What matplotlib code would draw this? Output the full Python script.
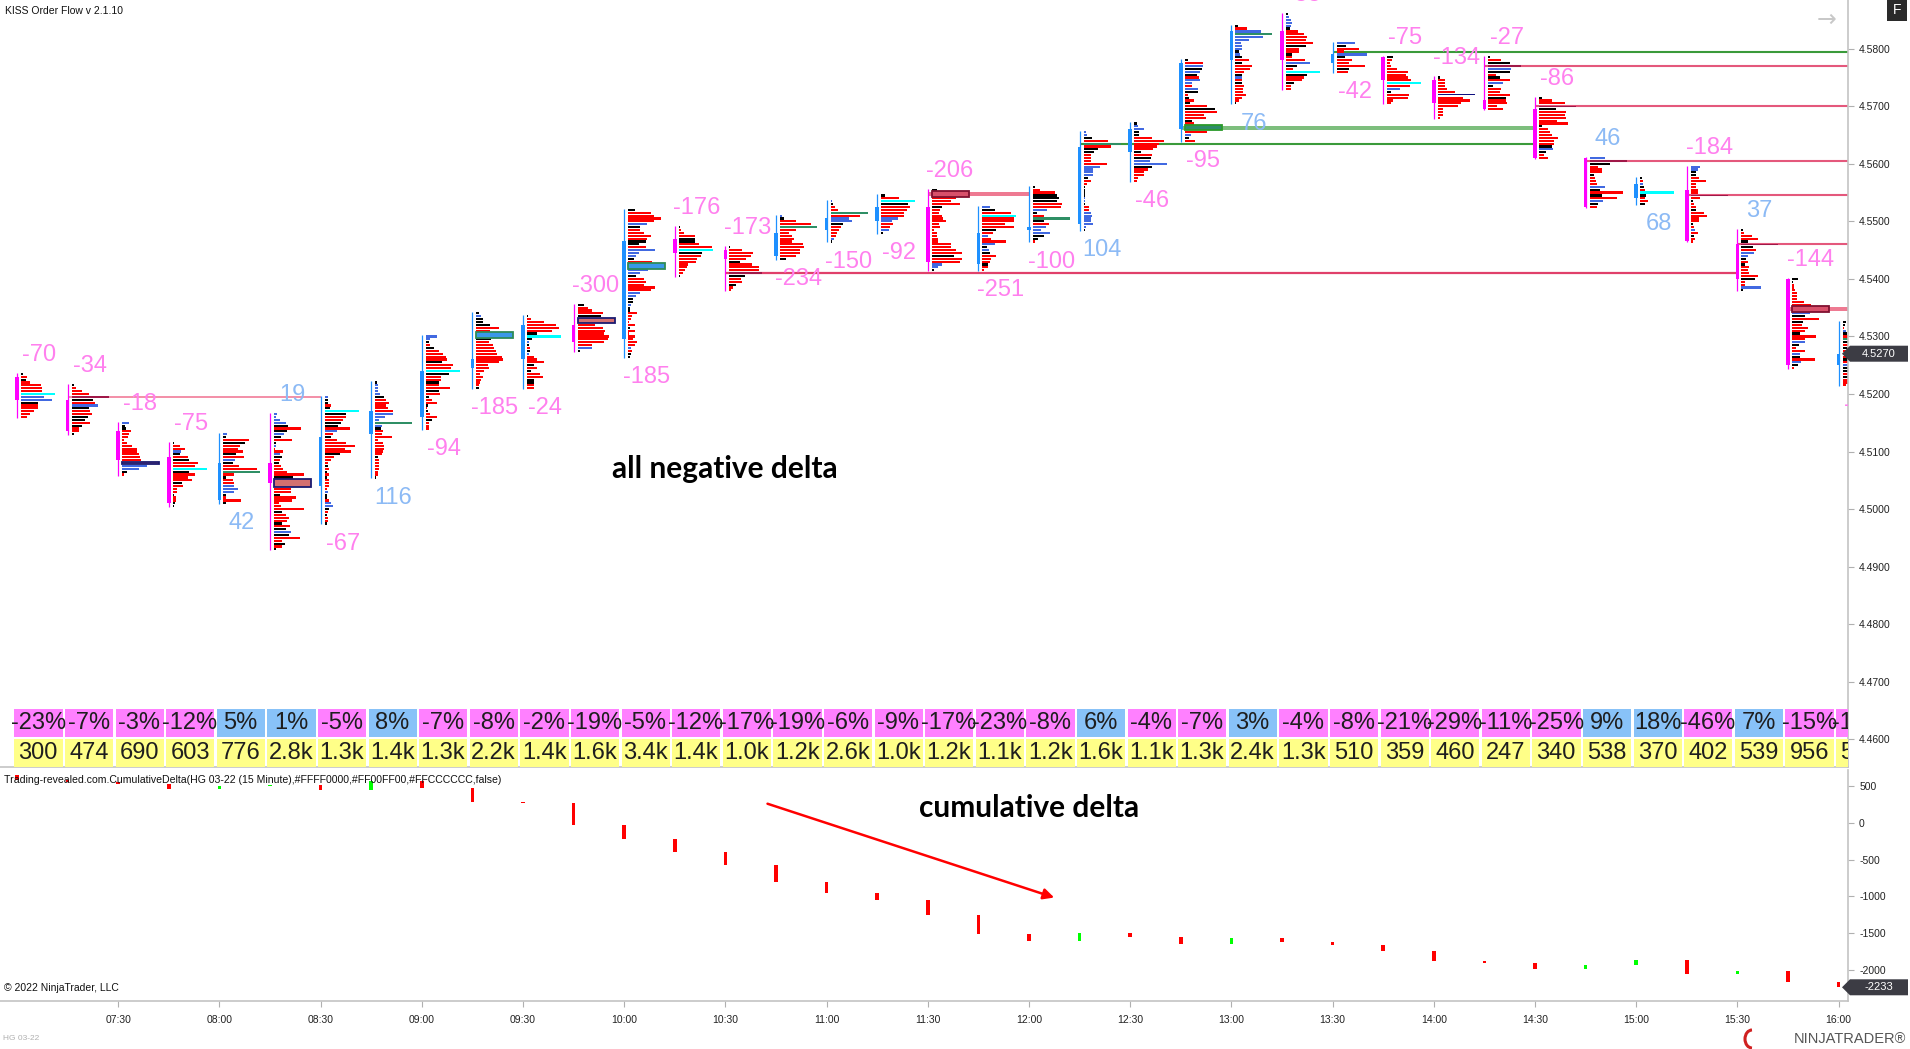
import matplotlib
matplotlib.use("Agg")
import matplotlib.pyplot as plt
import numpy as np
from matplotlib.patches import Rectangle, Polygon, Arc

# ---- data (15 minute HG 03-22 bars, 07:00 .. 16:00) ----
TIME_LABELS = ["07:30", "08:00", "08:30", "09:00", "09:30", "10:00", "10:30", "11:00", "11:30",
               "12:00", "12:30", "13:00", "13:30", "14:00", "14:30", "15:00", "15:30", "16:00"]

HIGHS = [4.5235, 4.5215, 4.5150, 4.5115, 4.5130, 4.5165, 4.5195, 4.5220, 4.5300, 4.5340,
         4.5335, 4.5355, 4.5520, 4.5490, 4.5455, 4.5510, 4.5535, 4.5545, 4.5555, 4.5525,
         4.5560, 4.5655, 4.5670, 4.5780, 4.5840, 4.5860, 4.5810, 4.5785, 4.5750, 4.5785,
         4.5715, 4.5610, 4.5575, 4.5595, 4.5485, 4.5400, 4.5325]
OPENS = [4.5230, 4.5190, 4.5135, 4.5090, 4.5015, 4.5080, 4.5040, 4.5130, 4.5160, 4.5245,
         4.5260, 4.5320, 4.5295, 4.5470, 4.5450, 4.5440, 4.5485, 4.5500, 4.5525, 4.5425,
         4.5485, 4.5495, 4.5620, 4.5660, 4.5780, 4.5830, 4.5775, 4.5785, 4.5745, 4.5710,
         4.5695, 4.5610, 4.5540, 4.5555, 4.5460, 4.5400, 4.5250]
CLOSES = [4.5190, 4.5135, 4.5085, 4.5010, 4.5080, 4.5045, 4.5125, 4.5170, 4.5240, 4.5260,
          4.5320, 4.5290, 4.5465, 4.5445, 4.5435, 4.5480, 4.5505, 4.5525, 4.5430, 4.5480,
          4.5490, 4.5630, 4.5660, 4.5775, 4.5830, 4.5780, 4.5790, 4.5745, 4.5705, 4.5695,
          4.5610, 4.5525, 4.5565, 4.5465, 4.5400, 4.5250, 4.5270]

DELTAS = [-70, -34, -18, -75, 42, 19, -67, 116, -94, -185, -24, -300, -185, -176, -173, -234,
          -150, -92, -206, -251, -100, 104, -46, -95, 76, -55, -42, -75, -134, -27, -86, 46,
          68, -184, 37, -144, -73]
DELTA_PCT = [-23, -7, -3, -12, 5, 1, -5, 8, -7, -8, -2, -19, -5, -12, -17, -19, -6, -9, -17,
             -23, -8, 6, -4, -7, 3, -4, -8, -21, -29, -11, -25, 9, 18, -46, 7, -15, -13]
VOLUMES = ["300", "474", "690", "603", "776", "2.8k", "1.3k", "1.4k", "1.3k", "2.2k", "1.4k",
           "1.6k", "3.4k", "1.4k", "1.0k", "1.2k", "2.6k", "1.0k", "1.2k", "1.1k", "1.2k",
           "1.6k", "1.1k", "1.3k", "2.4k", "1.3k", "510", "359", "460", "247", "340", "538",
           "370", "402", "539", "956", "560"]

# volume profile per bar, top price level first: <colour code><volume>
PROFILES = [
    "k2 r6 k5 r9 r20 r21 r21 c34 b23 b31 k17 r17 r17 r13 r9 r6",
    "k2 r4 r10 r17 m37 k21 r23 b26 k17 r18 r20 k16 k13 r18 k10 r7 r7 k2",
    "b7 k3 k4 r9 r7 r6 r2 r5 r10 r15 r15 r17 r18 r19 P37 b25 b17 k5 r2",
    "k1 r7 r12 b8 k7 r15 k16 r25 r22 c34 k16 r22 r15 r19 k9 r10 r4 r4 k1 r3 r3 k2 k1",
    "b4 k3 r26 k22 r17 r15 r20 k13 r21 b12 k10 r16 r34 g37 r11 k3 r10 r11 b11 b15 b11 k3 r3 r18 k3",
    "b3 b2 b6 b12 k14 r27 k13 b10 k7 r18 k2 b2 r1 r9 b6 k8 r6 k5 r7 r9 r13 r30 k19 P37 P37 P37 "
    "r17 r17 k6 r22 r18 r5 r7 r30 k8 r12 r15 r13 k8 r16 k12 b17 k15 r26 r8 k11 r8 k2",
    "b3 k3 k3 r6 k5 c34 k21 r21 r18 k16 k13 r25 b12 r8 k6 r12 r21 r30 r20 r26 k15 r9 r6 r3 k3 "
    "r4 k2 r4 k2 r4 r4 r4 r2 b3 k2 k2 r4 b6 b8 k4 r3 k2 r3 r3 k2",
    "k2 b3 b3 b3 b5 k9 r11 r14 r11 r13 r18 b18 b10 b4 g37 b7 k6 r8 r7 r17 r3 r8 r9 r9 r8 r7 k3 "
    "r4 r4 r4 r4 r3 r3 k1",
    "b11 b4 k3 r4 k8 r13 r17 r20 r21 k16 r27 r25 c34 k23 r15 r15 k13 r13 r24 k13 r14 k3 r6 r11 "
    "k2 r1 k2 r4 r11 k6 r3 r3 r3",
    "k3 b5 k7 k7 k14 r23 r14 Q37 Q37 k15 r13 r17 r18 r20 r21 r26 r27 r23 r12 r13 r8 r4 r7 r5 r4 r3 k3",
    "k1 r4 r17 r29 r32 r25 k10 c34 k5 b2 k2 r3 k3 b2 r7 r10 r17 k7 r10 k4 r13 r16 k7 k7 r7 r7",
    "k6 r10 r14 r25 k23 P37 P37 r17 r25 r27 r26 r31 r30 r26 r14 b14 k2",
    "k7 r23 r26 r33 r26 b19 k12 r12 r16 r23 r19 k18 k11 r18 b27 b11 b8 k6 r24 Q37 Q37 b20 b12 k8 "
    "r16 r18 r16 r27 r23 b12 b8 k5 k5 b3 k2 k2 r9 r4 r3 r1 r7 k2 r7 r1 r7 r5 r9 r7 b3 r4 k3 k2",
    "k1 r2 r5 r16 k16 k16 r20 r33 c34 k23 r22 r18 r17 r9 r8 r6 r4 k1",
    "k1 r13 r24 r22 r17 k11 r23 r30 r30 m33 k16 r12 r13 k7 r4 r2",
    "b2 k4 r16 r31 g37 r16 r9 r12 r14 r12 r23 r24 r20 r20 r16 k6",
    "b1 k2 r4 r7 g37 r29 b18 b21 k12 r10 r8 r6 r5 b3 k1",
    "k4 r18 c34 k27 r29 r26 r23 r23 b17 b11 r12 r9 b8 k2",
    "k5 R37 R37 r24 r19 r28 k10 r8 r7 r10 r11 r14 r7 r8 r2 r5 r5 r6 r6 r19 r19 r24 r30 k22 r30 "
    "r28 b10 b6 k2",
    "b8 k13 r29 c34 r32 r32 r23 r32 k14 r11 b6 r9 r24 b13 k5 b7 k8 r14 r9 r8 k6 r6 r2",
    "k2 r7 r22 k24 k26 k24 r29 r28 b14 k4 r11 g37 k11 r16 b13 b8 b17 k11 k5 r2",
    "b2 b3 k8 r24 g37 r27 k14 k10 r7 r7 r7 r23 b16 b9 b9 b9 k4 r7 r3 k1 k1 k1 k1 b1 b1 k1 r5 r5 "
    "b7 b8 b7 b7 b9 b2 k1",
    "k3 b4 b10 k5 k5 r18 r30 r25 r23 r19 k7 r18 k17 b16 b33 k18 r14 r10 r10 r4 r3",
    "k3 r18 b18 k17 b15 k12 r14 b15 b7 r7 b13 k13 r3 k4 r9 k5 r22 k30 r32 r19 r21 k7 r9 G37 G37 "
    "r22 b6 k4 r10",
    "k3 r12 b26 g37 b28 b14 b6 b7 b7 k4 b5 k7 r14 k7 r17 r15 r9 k7 b7 r7 k7 r9 r8 r8 r11 r7 r4 k1",
    "k2 b3 b5 b6 b5 k4 r12 r18 r21 r20 r27 k20 r13 r13 k6 r6 r19 b24 k11 r7 c34 k21 r18 r16 k8 r5 r5",
    "b18 k9 r22 r7 b30 k8 r15 r12 r28 k12 r11",
    "k6 r5 r3 r4 r10 r21 r19 r21 r24 c34 r23 b13 k4 r22 r21 r6 r4",
    "k2 r7 r7 r7 r9 r17 N37 r25 r32 r23 r20 r5 r5 r5 r2",
    "k2 r13 k22 m33 b23 k22 r8 k12 r22 b15 k5 r13 r12 r22 k18 r18 r19 r9 r15",
    "k3 r13 r26 m37 k17 r27 r26 r27 r18 r29 k3 r9 r11 r13 r19 r15 r15 k13 b14 k7 r5 r9",
    "b15 m37 k20 r8 r12 r12 k4 r5 r6 r7 b15 k10 r33 k12 r27 b13 k8 r7",
    "k2 r3 b3 k4 r5 c34 k6 r5 r8 k5",
    "b9 b7 k5 k5 r8 r15 r5 r5 r7 r7 m37 r9 k2 r3 r5 k5 r13 r16 r8 r8 k2 r3 b4 r7 k3 r4 r2",
    "k2 r3 r11 r17 k7 m37 k12 r15 b13 b7 k5 r7 k4 r8 r7 r8 r17 k14 r4 r4 b20 k2",
    "k6 k1 r2 r2 r3 r5 r5 r5 r12 r19 R37 R37 b18 k13 r27 k11 r10 r16 r13 k8 r24 r13 b13 k7 r4 "
    "r13 b8 k8 r23 b9 k6 r2",
    "k3 k2 r1 b3 k4 r5 g10 k7 r7 k5 r5 r5 r7 k7 r7 b7 k5 k5 r7 k7 r5 r5 r3",
]

# untested levels (price, origin bar, bar that touched it or None = still open, kind)
LEVEL_PRICES = [4.5195, 4.5410, 4.55475, 4.5635, 4.56625, 4.5795, 4.5770, 4.5700, 4.5605,
                4.5545, 4.5460, 4.53475]
LEVEL_FROM = [1, 14, 18, 21, 23, 26, 29, 30, 31, 33, 34, 35]
LEVEL_TO = [6, 34, 20, 30, 30, None, None, None, None, None, None, None]
LEVEL_KIND = ["thin", "red", "pinkband", "green", "greenband", "green", "pink", "pink", "pink",
              "pink", "pink", "pinkband"]

CD_START = 654  # cumulative delta before the 07:00 bar

# ---- layout (pixels of the 1910x1049 screenshot) ----
W, H = 1910, 1049
TICK = 0.0005
PX_BAR = 50.6          # pixels per 15 minute bar
X0_PX = 17             # x of the 07:00 bar
RIGHT_PX = 1848        # price axis line
MAIN_BOTTOM_PX = 767
SUB_TOP_PX, SUB_BOTTOM_PX = 770, 1001
PX_PER_PRICE = 5755
PRICE_TOP = 4.58846
CD_TOP, CD_BOTTOM = 716, -2419

BULL, BEAR = "#1E90FF", "#FF00FF"
NEG_TXT, POS_TXT = "#FF80EE", "#8CBAF5"
NEG_BOX, POS_BOX = "#FF80FF", "#88C2F8"
BAR_COLORS = {"r": "#FF0000", "k": "#000000", "b": "#4169E1", "c": "#00FFFF",
              "g": "#2F8F65", "m": "#A01848", "N": "#101080"}
BOX_STYLE = {"P": ("#D47070", "#1A1A70"), "R": ("#D8506A", "#801030"),
             "Q": ("#3A98E8", "#2E8B57"), "G": ("#2E8B6A", "#2A9A2A")}
LINE_STYLE = {"thin": ("#F07090", 1.1), "red": ("#E0406A", 1.6), "green": ("#3A9A3A", 1.5),
              "pink": ("#E4587C", 1.5)}
BAND_STYLE = {"pinkband": ("#EE7A92", 0.0008), "greenband": ("#7DBE7D", 0.0008)}

ARIAL = ["Liberation Sans", "DejaVu Sans"]
NARROW = ["Liberation Sans Narrow", "DejaVu Sans Condensed", "Liberation Sans", "DejaVu Sans"]
NOTE = ["Lato", "DejaVu Sans"]


def fig_xy(x_px, y_px):
    return x_px / W, 1 - y_px / H


fig = plt.figure(figsize=(W / 100, H / 100), dpi=100)
fig.patch.set_facecolor("white")

xlim = (-X0_PX / PX_BAR, (RIGHT_PX - X0_PX) / PX_BAR)
ax = fig.add_axes([0, 1 - MAIN_BOTTOM_PX / H, RIGHT_PX / W, MAIN_BOTTOM_PX / H])
ax.set_xlim(*xlim)
ax.set_ylim(PRICE_TOP - MAIN_BOTTOM_PX / PX_PER_PRICE, PRICE_TOP)

sub = fig.add_axes([0, 1 - SUB_BOTTOM_PX / H, RIGHT_PX / W, (SUB_BOTTOM_PX - SUB_TOP_PX) / H])
sub.set_xlim(*xlim)
sub.set_ylim(CD_BOTTOM, CD_TOP)

for a in (ax, sub):
    for side in ("top", "left"):
        a.spines[side].set_visible(False)
    for side in ("right", "bottom"):
        a.spines[side].set_color("#C4C4C4")
        a.spines[side].set_linewidth(1.2)
    a.yaxis.tick_right()
    a.tick_params(axis="y", length=4, width=0.8, color="#B0B0B0", pad=4,
                  labelsize=7.5, labelcolor="#222222")

# price axis
ax.set_yticks(np.round(np.arange(4.46, 4.5801, 0.01), 2))
ax.set_yticklabels([f"{v:.4f}" for v in np.arange(4.46, 4.5801, 0.01)], family=ARIAL)
ax.set_xticks([])

# ---- untested levels (drawn under the profiles) ----
for price, start, end, kind in zip(LEVEL_PRICES, LEVEL_FROM, LEVEL_TO, LEVEL_KIND):
    x_end = xlim[1] if end is None else end
    if kind in BAND_STYLE:
        col, thick = BAND_STYLE[kind]
        ax.add_patch(Rectangle((start, price - thick / 2), x_end - start, thick,
                               fc=col, ec="none", zorder=1))
    else:
        col, lw = LINE_STYLE[kind]
        ax.hlines(price, start, x_end, color=col, lw=lw, zorder=1)

# ---- footprint profiles, candles, delta labels ----
gap = 4 / PX_BAR
for i, prof in enumerate(PROFILES):
    toks = prof.split()
    hi = HIGHS[i]
    n = len(toks)
    lo = hi - (n - 1) * TICK
    ys, ws, cols, hs = [], [], [], []
    j = 0
    while j < n:
        code, vol = toks[j][0], int(toks[j][1:])
        p = hi - j * TICK
        if code in BOX_STYLE:
            k = j
            while k + 1 < n and toks[k + 1][0] == code:
                k += 1
            top = p + 0.42 * TICK
            bot = hi - k * TICK - 0.42 * TICK
            fc, ec = BOX_STYLE[code]
            ax.add_patch(Rectangle((i + gap, bot), vol / PX_BAR, top - bot,
                                   fc=fc, ec=ec, lw=1.3, zorder=3))
            j = k + 1
            continue
        ys.append(p)
        ws.append(vol / PX_BAR)
        cols.append(BAR_COLORS[code])
        hs.append((0.5 if code in "mN" else 0.75) * TICK)
        j += 1
    ax.barh(ys, ws, height=hs, left=i + gap, color=cols, linewidth=0, zorder=2)

    o, c = OPENS[i], CLOSES[i]
    bear = c < o
    ccol = BEAR if bear else BULL
    ax.vlines(i, lo - 0.35 * TICK, hi + 0.35 * TICK, color=ccol, lw=0.9, zorder=4)
    ax.bar(i, abs(c - o), bottom=min(o, c), width=0.075, color=ccol, linewidth=0, zorder=4)

    d = DELTAS[i]
    ly = hi + 6.6 * TICK if bear else lo - 7.0 * TICK
    ax.text(i + 0.44, ly, str(d), color=POS_TXT if d > 0 else NEG_TXT, fontsize=17,
            family=ARIAL, ha="center", va="center", zorder=5, clip_on=True)

# ---- delta % and volume rows ----
trans = ax.get_xaxis_transform()
y_top = (MAIN_BOTTOM_PX - 709) / MAIN_BOTTOM_PX
y_mid = (MAIN_BOTTOM_PX - 737) / MAIN_BOTTOM_PX
y_vol = (MAIN_BOTTOM_PX - 739) / MAIN_BOTTOM_PX
for i, (pct, vol) in enumerate(zip(DELTA_PCT, VOLUMES)):
    ax.add_patch(Rectangle((i - 0.05, y_mid), 0.95, y_top - y_mid, transform=trans,
                           fc=NEG_BOX if pct < 0 else POS_BOX, ec="none", zorder=6))
    ax.add_patch(Rectangle((i - 0.05, 0.0), 0.95, y_vol, transform=trans,
                           fc="#FFFF88", ec="none", zorder=6))
    ax.text(i + 0.42, (y_top + y_mid) / 2, f"{pct}%", transform=trans, fontsize=17,
            family=NARROW, color="#1E1E1E", ha="center", va="center", zorder=7, clip_on=True)
    ax.text(i + 0.42, y_vol / 2, vol, transform=trans, fontsize=17,
            family=NARROW, color="#1E1E1E", ha="center", va="center", zorder=7, clip_on=True)

ax.text(13.98, 4.5070, "all negative delta", fontsize=21.5, fontweight="bold",
        family=NOTE, ha="center", va="center", zorder=8)

# ---- cumulative delta panel ----
idx = np.arange(len(DELTAS))
cd_close = CD_START + np.cumsum(DELTAS)
cd_open = np.r_[CD_START, cd_close[:-1]]
sub.bar(idx, cd_close - cd_open, bottom=cd_open, width=0.07,
        color=["#FF0000" if d < 0 else "#00FF00" for d in DELTAS], linewidth=0, zorder=2)
sub.set_yticks([500, 0, -500, -1000, -1500, -2000])
sub.set_yticklabels(["500", "0", "-500", "-1000", "-1500", "-2000"], family=ARIAL)
sub.set_xticks(range(2, 37, 2))
sub.set_xticklabels(TIME_LABELS, family=ARIAL)
sub.tick_params(axis="x", length=4, width=0.8, color="#B0B0B0", pad=6,
                labelsize=7.5, labelcolor="#222222")

sub.text(20.0, 203, "cumulative delta", fontsize=21.5, fontweight="bold",
         family=NOTE, ha="center", va="center", zorder=8)
sub.annotate("", xy=(20.55, -1027), xytext=(14.78, 270),
             arrowprops=dict(arrowstyle="-|>", color="#FF0000", lw=1.8, mutation_scale=16),
             zorder=8)

# ---- texts and badges around the panels ----
fig.text(*fig_xy(5, 11), "KISS Order Flow v 2.1.10", fontsize=7.5, family=ARIAL,
         va="center", color="#111111")
fig.text(*fig_xy(4, 780),
         "Trading-revealed.com.CumulativeDelta(HG 03-22 (15 Minute),#FFFF0000,#FF00FF00,"
         "#FFCCCCCC,false)", fontsize=7.6, family=ARIAL, va="center", color="#111111")
fig.text(*fig_xy(4, 988), "\u00a9 2022 NinjaTrader, LLC", fontsize=7.5, family=ARIAL,
         va="center", color="#111111")
fig.text(*fig_xy(3, 1039), "HG 03-22", fontsize=6, family=ARIAL, va="center",
         color="#B0B0B0")
fig.text(*fig_xy(1827, 20), "\u2192", fontsize=17, color="#C8C8C8", ha="center", va="center")

fig.patches.append(Rectangle(fig_xy(1887, 21), 20 / W, 21 / H, transform=fig.transFigure,
                             fc="#2A2A2A", ec="none"))
fig.text(*fig_xy(1897, 10.5), "F", fontsize=10, color="white", ha="center", va="center",
         family=ARIAL)


def price_badge(y_px, label):
    pts = [fig_xy(1842, y_px), fig_xy(1850, y_px - 8), fig_xy(1908, y_px - 8),
           fig_xy(1908, y_px + 8), fig_xy(1850, y_px + 8)]
    fig.patches.append(Polygon(pts, closed=True, transform=fig.transFigure,
                               fc="#3C3C44", ec="none"))
    fig.text(*fig_xy(1879, y_px), label, fontsize=8, color="white", ha="center",
             va="center", family=ARIAL)


price_badge((PRICE_TOP - CLOSES[-1]) * PX_PER_PRICE, f"{CLOSES[-1]:.4f}")
cd_px = SUB_TOP_PX + (CD_TOP - cd_close[-1]) / (CD_TOP - CD_BOTTOM) * (SUB_BOTTOM_PX - SUB_TOP_PX)
price_badge(cd_px, f"{cd_close[-1]:.0f}")

# NinjaTrader logo
fig.patches.append(Arc(fig_xy(1752, 1039), 14 / W, 18 / H, theta1=90, theta2=270,
                       transform=fig.transFigure, color="#D02020", lw=2.2))
fig.text(*fig_xy(1906, 1039), "NINJATRADER\u00ae", fontsize=10.5, color="#555555",
         ha="right", va="center", family=ARIAL)

fig.savefig("out.png", dpi=100, facecolor="white")
